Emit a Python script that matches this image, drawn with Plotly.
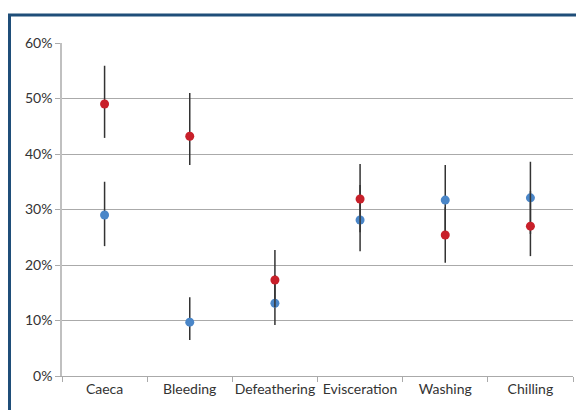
import plotly.graph_objects as go

categories = ["Caeca", "Bleeding", "Defeathering", "Evisceration", "Washing", "Chilling"]
red_values = [49.0, 43.2, 17.3, 31.9, 25.4, 27.0]
red_upper = [55.9, 51.0, 22.7, 38.2, 30.4, 33.3]
red_lower = [42.9, 38.0, 12.4, 25.9, 20.4, 21.6]
blue_values = [29.0, 9.7, 13.1, 28.1, 31.7, 32.1]
blue_upper = [35.0, 14.2, 18.2, 34.4, 38.0, 38.6]
blue_lower = [23.4, 6.5, 9.2, 22.5, 25.4, 25.6]
y_ticks = [0, 10, 20, 30, 40, 50, 60]
y_labels = [f"{v}%" for v in y_ticks]

def err(vals, up, lo):
    return dict(type="data", symmetric=False,
                array=[u - v for u, v in zip(up, vals)],
                arrayminus=[v - l for v, l in zip(vals, lo)],
                color="#333333", thickness=1.5, width=0)

fig = go.Figure()
fig.add_trace(go.Scatter(x=categories, y=blue_values, mode="markers",
                         marker=dict(color="#4a86c8", size=9),
                         error_y=err(blue_values, blue_upper, blue_lower),
                         showlegend=False, hoverinfo="skip"))
fig.add_trace(go.Scatter(x=categories, y=red_values, mode="markers",
                         marker=dict(color="#c8202a", size=9),
                         error_y=err(red_values, red_upper, red_lower),
                         showlegend=False, hoverinfo="skip"))

W, H = 576, 410
l, r, t, b = 62, 3, 43, 34
pw, ph = W - l - r, H - t - b

def px_x(x):
    return (x - l) / pw

def px_y(y):
    return (H - b - y) / ph

fig.update_layout(
    width=W, height=H,
    margin=dict(l=l, r=r, t=t, b=b, autoexpand=False),
    paper_bgcolor="white", plot_bgcolor="white",
    font=dict(family="Lato", size=14, color="#333333"),
    xaxis=dict(type="category", range=[-0.5, 5.5], showgrid=False,
               showline=True, linecolor="#aaaaaa", linewidth=1,
               ticks="outside", tickson="boundaries", ticklen=5,
               tickcolor="#aaaaaa", tickangle=0, automargin=False,
               tickfont=dict(family="Lato", size=14, color="#333333")),
    yaxis=dict(range=[0, 60], tickmode="array", tickvals=y_ticks, ticktext=y_labels,
               showgrid=True, gridcolor="#aaaaaa", gridwidth=1,
               showline=True, linecolor="#c0c0c0", linewidth=1.5,
               ticks="outside", ticklen=5, tickcolor="#aaaaaa",
               zeroline=False, automargin=False,
               tickfont=dict(family="Lato", size=14, color="#333333")),
    shapes=[dict(type="rect", xref="paper", yref="paper",
                 x0=px_x(9.5), x1=px_x(590), y0=px_y(425), y1=px_y(15),
                 line=dict(color="#1f4e79", width=3), fillcolor="rgba(0,0,0,0)",
                 layer="above")],
)

fig.write_html("out.html", config={"displayModeBar": False},
               post_script="document.body.style.margin='0';document.body.style.overflow='hidden';")
